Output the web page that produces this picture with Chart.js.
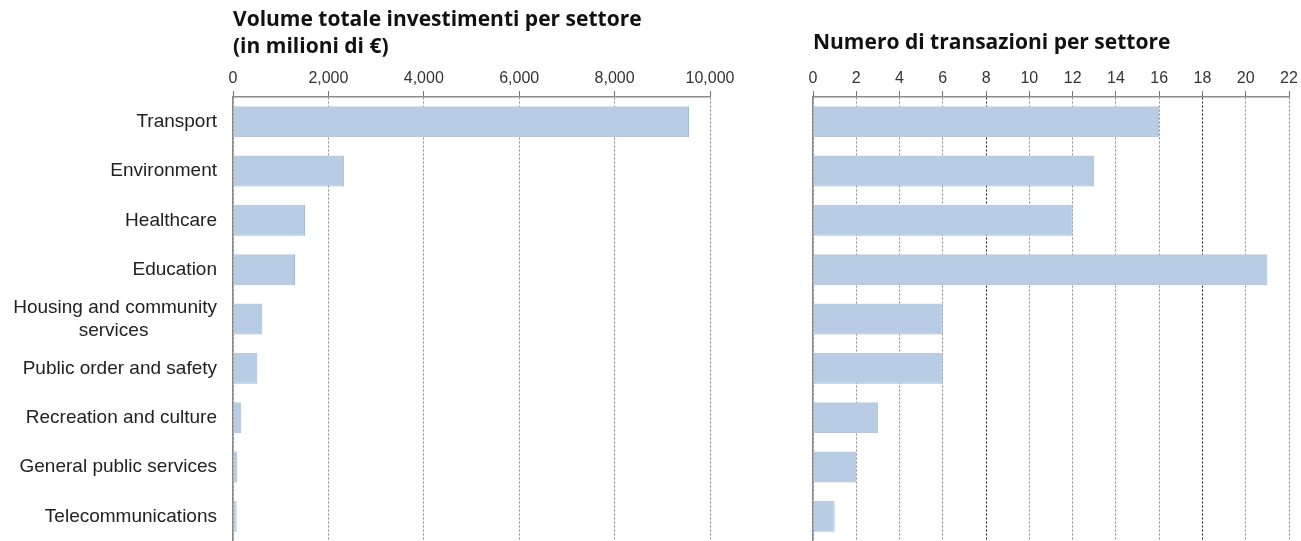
<!DOCTYPE html>
<html>
<head>
<meta charset="utf-8">
<script src="https://cdn.jsdelivr.net/npm/chart.js@4.4.1/dist/chart.umd.min.js"></script>
<style>
    html, body { margin: 0; padding: 0; background: #fff; }
    #wrap { position: relative; width: 1301px; height: 541px; overflow: hidden; }
    .box { position: absolute; top: 0; height: 541px; }
    #volumeBox { left: 0; width: 760px; }
    #countBox { left: 760px; width: 541px; }
</style>
</head>
<body>
<div id="wrap">
    <div class="box" id="volumeBox"><canvas id="volumeChart"></canvas></div>
    <div class="box" id="countBox"><canvas id="countChart"></canvas></div>
</div>
<script>
// sectors, top to bottom
const sectors = [
    'Transport',
    'Environment',
    'Healthcare',
    'Education',
    ['Housing and community', 'services             '],
    'Public order and safety',
    'Recreation and culture',
    'General public services',
    'Telecommunications'
];

// investment volume, millions of euro
const volumeValues = [9560, 2330, 1510, 1300, 615, 510, 175, 90, 75];
// number of deals
const dealCounts = [16, 13, 12, 21, 6, 6, 3, 2, 1];

const volumeTicks = { max: 10000, step: 2000 };
const countTicks = { max: 22, step: 2 };

const volumeTitle = ['Volume totale investimenti per settore', '(in milioni di €)'];
const countTitle = 'Numero di transazioni per settore';

const barFill = '#b8cce4';
const barEdge = '#a7b7cb';
const gridGrey = '#8a8a8a';
const labelFont = 'Arial, "Liberation Sans", sans-serif';

function makeChart(canvasId, values, ticks, title, opts) {
    const ctx = document.getElementById(canvasId).getContext('2d');
    return new Chart(ctx, {
        type: 'bar',
        data: {
            labels: sectors,
            datasets: [{
                data: values,
                backgroundColor: barFill,
                borderColor: barEdge,
                borderWidth: { right: 1, bottom: 1 },
                borderSkipped: false,
                barPercentage: 0.63,
                categoryPercentage: 1
            }]
        },
        options: {
            indexAxis: 'y',
            locale: 'en-US',
            animation: false,
            responsive: true,
            maintainAspectRatio: false,
            layout: {
                padding: { left: 0, top: 0, bottom: 0, right: opts.padRight }
            },
            plugins: {
                legend: { display: false },
                tooltip: { enabled: false },
                title: {
                    display: true,
                    text: title,
                    align: 'start',
                    fullSize: false,
                    color: '#111',
                    font: { family: '"Open Sans", sans-serif', size: 21, weight: 'bold', lineHeight: 1.3 },
                    padding: opts.titlePad
                }
            },
            scales: {
                x: {
                    position: 'top',
                    min: 0,
                    max: ticks.max,
                    afterFit: scale => { scale.height = 36; },
                    ticks: {
                        stepSize: ticks.step,
                        maxRotation: 0,
                        autoSkip: false,
                        padding: 3,
                        color: '#333',
                        font: { family: labelFont, size: 16 }
                    },
                    grid: {
                        color: opts.gridColor,
                        lineWidth: 1,
                        tickLength: 6,
                        tickColor: '#777'
                    },
                    border: {
                        display: true,
                        color: '#8a8a8a',
                        width: 1.5,
                        dash: [2, 2]
                    }
                },
                y: {
                    afterFit: scale => {
                        scale.width = opts.axisWidth;
                        // no extra room for the first/last label, the plot runs to the bottom edge
                        scale.paddingTop = 0;
                        scale.paddingBottom = 0;
                    },
                    ticks: {
                        display: opts.showLabels,
                        autoSkip: false,
                        padding: 16,
                        color: '#222',
                        font: { family: labelFont, size: 19, lineHeight: 1.2 }
                    },
                    grid: { display: false, drawTicks: false },
                    border: { display: true, color: '#8a8a8a', width: 1.5 }
                }
            }
        }
    });
}

const volumeChart = makeChart('volumeChart', volumeValues, volumeTicks, volumeTitle, {
    padRight: 50,
    axisWidth: 233,
    showLabels: true,
    titlePad: { top: 6, bottom: 0.4 },
    gridColor: gridGrey
});

// the 8 and 18 gridlines come out darker on this panel
const countChart = makeChart('countChart', dealCounts, countTicks, countTitle, {
    padRight: 12,
    axisWidth: 53,
    showLabels: false,
    titlePad: { top: 29, bottom: 4.7 },
    gridColor: c => (c.tick && (c.tick.value === 8 || c.tick.value === 18)) ? '#222' : gridGrey
});
</script>
</body>
</html>
